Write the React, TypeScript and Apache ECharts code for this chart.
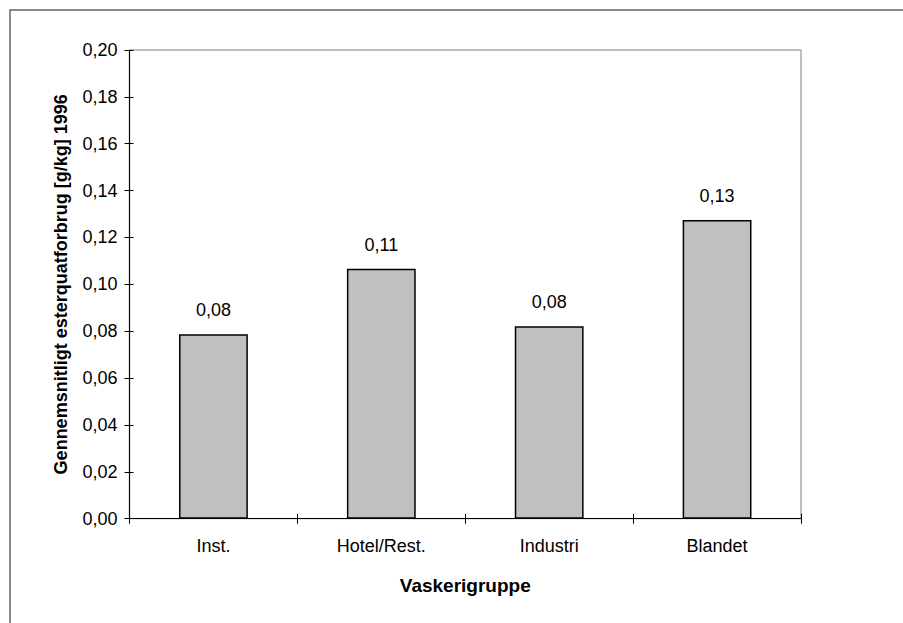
import React, { useEffect, useRef } from "react";
import * as echarts from "echarts";

const categories = ["Inst.", "Hotel/Rest.", "Industri", "Blandet"];
const consumption = [0.0787, 0.1067, 0.0821, 0.1275];
const yMin = 0;
const yMax = 0.2;
const yStep = 0.02;

const FONT = "'Liberation Sans', Arial, sans-serif";
const fmt = (v: number) => v.toFixed(2).replace(".", ",");

export default function App() {
  const ref = useRef<HTMLDivElement>(null);

  useEffect(() => {
    if (!ref.current) return;
    const chart = echarts.init(ref.current, undefined, { renderer: "svg" });
    const grid = { left: 129.5, right: 102, top: 50, bottom: 104.3 };

    const valueAxisBase = {
      type: "value" as const,
      min: yMin,
      max: yMax,
      interval: yStep,
      splitLine: { show: false },
    };

    const plainText = { fontFamily: FONT, fontSize: 18, color: "#000" };

    chart.setOption({
      animation: false,
      backgroundColor: "#ffffff",
      grid: { ...grid, show: true, borderColor: "#808080", borderWidth: 1, backgroundColor: "#ffffff" },
      graphic: [
        {
          type: "rect",
          shape: { x: 10, y: 10, width: 1000, height: 700 },
          style: { fill: "none", stroke: "#666666", lineWidth: 1.5 },
          silent: true,
          z: -10,
        },
      ],
      xAxis: [
        {
          type: "category",
          data: categories,
          boundaryGap: true,
          name: "Vaskerigruppe",
          nameLocation: "middle",
          nameGap: 57,
          nameTextStyle: { fontFamily: FONT, fontWeight: "bold", fontSize: 19, color: "#000" },
          axisLine: { lineStyle: { color: "#000", width: 1.2 } },
          axisTick: { show: true, length: 5, lineStyle: { color: "#000" } },
          axisLabel: { ...plainText, margin: 18 },
        },
        {
          type: "category",
          data: categories,
          position: "bottom",
          boundaryGap: true,
          axisLine: { show: false },
          axisTick: { show: true, inside: true, length: 5, lineStyle: { color: "#000" } },
          axisLabel: { show: false },
        },
      ],
      yAxis: [
        {
          ...valueAxisBase,
          name: "Gennemsnitligt esterquatforbrug [g/kg] 1996",
          nameLocation: "middle",
          nameGap: 60,
          nameTextStyle: { fontFamily: FONT, fontWeight: "bold", fontSize: 18, color: "#000" },
          axisLine: { show: true, lineStyle: { color: "#000", width: 1.2 } },
          axisTick: { show: true, length: 5, lineStyle: { color: "#000" } },
          axisLabel: { ...plainText, margin: 12, formatter: fmt },
        },
        {
          ...valueAxisBase,
          position: "left",
          axisLine: { show: false },
          axisTick: { show: true, inside: true, length: 4, lineStyle: { color: "#000" } },
          axisLabel: { show: false },
        },
      ],
      series: [
        {
          type: "bar",
          data: consumption,
          barWidth: "41%",
          itemStyle: { color: "#c0c0c0", borderColor: "#000", borderWidth: 1.5 },
          label: {
            show: true,
            position: "top",
            distance: 15,
            ...plainText,
            formatter: (p: any) => fmt(p.value),
          },
        },
      ],
    });

    return () => chart.dispose();
  }, []);

  return (
    <div
      ref={ref}
      style={{ position: "fixed", left: 0, top: 0, width: 903, height: 623, background: "#fff" }}
    />
  );
}
